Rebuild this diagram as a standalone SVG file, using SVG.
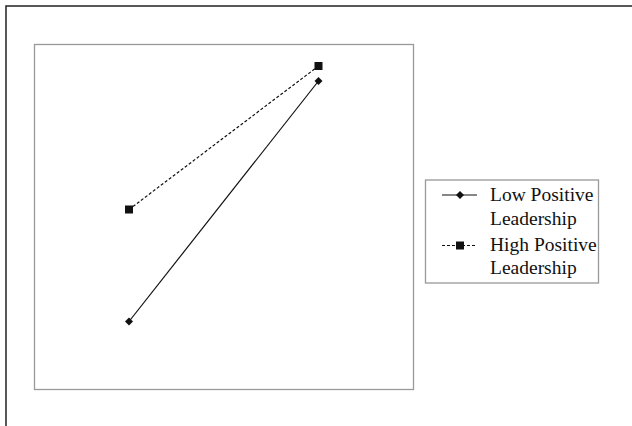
<svg xmlns="http://www.w3.org/2000/svg" width="632" height="426" viewBox="0 0 632 426">
<defs>
<style>
.frame{fill:none;stroke:#222;stroke-width:1.5}
.box{fill:none;stroke:#999;stroke-width:1.3}
.solid{stroke:#111;stroke-width:1.2;fill:none}
.dash{stroke:#111;stroke-width:1.2;fill:none;stroke-dasharray:3,2}
.mk{fill:#111}
.lbl{font-family:"Liberation Serif","Times New Roman",serif;font-size:19.5px;fill:#111}
</style>
<path id="dia" d="M0,-4 L4,0 L0,4 L-4,0 Z"/>
<rect id="sq" x="-4" y="-4" width="8" height="8"/>
</defs>
<rect width="632" height="426" fill="#fff"/>
<path class="frame" d="M6,426 V6 H632"/>
<g id="plot">
<rect class="box" x="34.5" y="44.5" width="379" height="345"/>
</g>
<g id="connectors">
<line class="solid" x1="129" y1="321.5" x2="318.5" y2="81"/>
<line class="dash" x1="129" y1="209.5" x2="318.5" y2="66"/>
</g>
<g id="low-points">
<use href="#dia" class="mk" x="129" y="321.5"/>
<use href="#dia" class="mk" x="318.5" y="81"/>
</g>
<g id="high-points">
<use href="#sq" class="mk" x="129" y="209.5"/>
<use href="#sq" class="mk" x="318.5" y="66"/>
</g>
<g id="legend">
<rect class="box" x="425.5" y="180" width="173" height="103"/>
<line class="solid" x1="442" y1="195" x2="477" y2="195"/>
<use href="#dia" class="mk" x="460" y="195"/>
<line class="dash" x1="442" y1="245.5" x2="477" y2="245.5"/>
<use href="#sq" class="mk" x="460" y="245.5"/>
<text class="lbl" x="490" y="200.5">Low Positive</text>
<text class="lbl" x="490" y="224.5">Leadership</text>
<text class="lbl" x="490" y="251">High Positive</text>
<text class="lbl" x="490" y="274">Leadership</text>
</g>
</svg>
